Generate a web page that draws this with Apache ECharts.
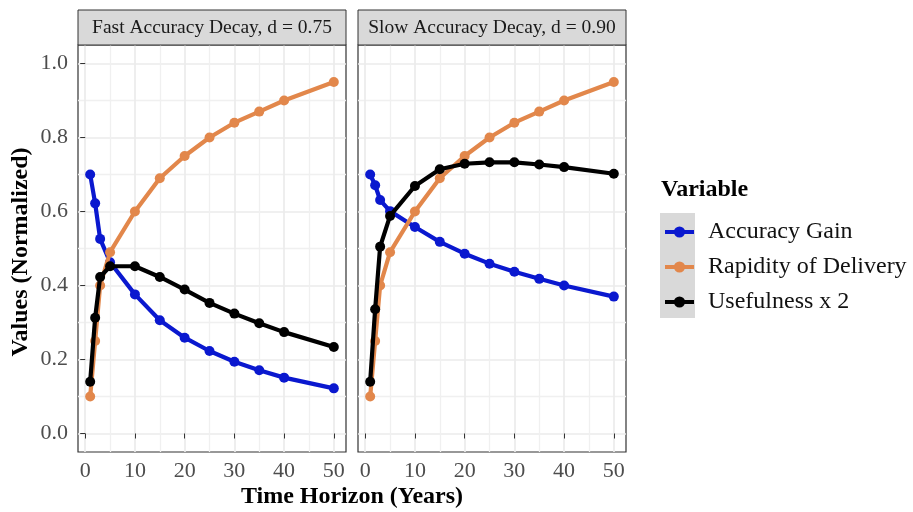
<!DOCTYPE html>
<html><head><meta charset="utf-8">
<script src="https://cdn.jsdelivr.net/npm/echarts@6/dist/echarts.min.js"></script>
<style>html,body{margin:0;padding:0;background:#fff;}#c{width:913px;height:512px;}</style>
</head><body><div id="c"></div>
<script>
const years = [1, 2, 3, 5, 10, 15, 20, 25, 30, 35, 40, 50];
const accuracyFast = [0.70, 0.622, 0.526, 0.463, 0.376, 0.306, 0.259, 0.223, 0.194, 0.171, 0.151, 0.122];
const rapidity = [0.10, 0.25, 0.40, 0.49, 0.60, 0.69, 0.75, 0.80, 0.84, 0.87, 0.90, 0.95];
const usefulnessFast = [0.14, 0.313, 0.423, 0.452, 0.452, 0.423, 0.389, 0.353, 0.324, 0.298, 0.274, 0.234];
const accuracySlow = [0.70, 0.671, 0.631, 0.601, 0.558, 0.518, 0.486, 0.459, 0.437, 0.418, 0.400, 0.370];
const usefulnessSlow = [0.14, 0.336, 0.505, 0.588, 0.669, 0.714, 0.729, 0.733, 0.733, 0.727, 0.720, 0.702];
const panelTitles = ['Fast Accuracy Decay, d = 0.75', 'Slow Accuracy Decay, d = 0.90'];
const seriesNames = ['Accuracy Gain', 'Rapidity of Delivery', 'Usefulness x 2'];
const xTicks = [0, 10, 20, 30, 40, 50];
const xMinorTicks = [5, 15, 25, 35, 45];
const yTicks = [0, 0.2, 0.4, 0.6, 0.8, 1.0];
const yMinorTicks = [0.1, 0.3, 0.5, 0.7, 0.9];
const xRange = [-1.45, 52.45];
const yRange = [-0.05, 1.05];

const FONT = "'Liberation Serif', 'Times New Roman', serif";
const colors = ['#0a18cf', '#e2874b', '#000000'];
const panelData = [
  [accuracyFast, rapidity, usefulnessFast],
  [accuracySlow, rapidity, usefulnessSlow]
];
const grids = [
  { left: 78, top: 45, width: 268, height: 407 },
  { left: 358, top: 45, width: 268, height: 407 }
];

const xAxes = [], yAxes = [], series = [], graphics = [];
grids.forEach((g, gi) => {
  // main axes
  xAxes.push({
    type: 'value', gridIndex: gi, min: xRange[0], max: xRange[1], position: 'bottom',
    axisLine: { show: false },
    axisTick: { show: true, inside: false, length: 5, customValues: xTicks, lineStyle: { color: '#333', width: 1 } },
    axisLabel: { show: true, customValues: xTicks, margin: 8, fontFamily: FONT, fontSize: 22, color: '#4d4d4d' },
    splitLine: { show: true, lineStyle: { color: '#ebebeb', width: 1.7 } }
  });
  // minor axes (grid lines only)
  xAxes.push({
    type: 'value', gridIndex: gi, min: xRange[0], max: xRange[1], position: 'top',
    axisLine: { show: false }, axisLabel: { show: false },
    axisTick: { show: false, customValues: xMinorTicks },
    splitLine: { show: true, lineStyle: { color: '#f0f0f0', width: 1.3 } }
  });
  yAxes.push({
    type: 'value', gridIndex: gi, min: yRange[0], max: yRange[1], position: 'left',
    axisLine: { show: false },
    axisTick: { show: gi === 0, inside: false, length: 5, customValues: yTicks, lineStyle: { color: '#333', width: 1 } },
    axisLabel: { show: gi === 0, customValues: yTicks, margin: 10, fontFamily: FONT, fontSize: 22, color: '#4d4d4d',
      formatter: v => v.toFixed(1) },
    splitLine: { show: true, lineStyle: { color: '#ebebeb', width: 1.7 } }
  });
  yAxes.push({
    type: 'value', gridIndex: gi, min: yRange[0], max: yRange[1], position: 'right',
    axisLine: { show: false }, axisLabel: { show: false },
    axisTick: { show: false, customValues: yMinorTicks },
    splitLine: { show: true, lineStyle: { color: '#f0f0f0', width: 1.3 } }
  });
  panelData[gi].forEach((vals, si) => {
    series.push({
      name: seriesNames[si], type: 'line', xAxisIndex: gi * 2, yAxisIndex: gi * 2,
      data: years.map((x, i) => [x, vals[i]]),
      symbol: 'circle', symbolSize: 10, showSymbol: true,
      lineStyle: { color: colors[si], width: 4.2 },
      itemStyle: { color: colors[si] },
      emphasis: { disabled: true }, animation: false, z: 3 + si
    });
  });
  // strip
  graphics.push({
    type: 'rect', shape: { x: g.left, y: 10, width: g.width, height: 35 },
    style: { fill: '#d9d9d9', stroke: '#333', lineWidth: 1 }, z: 10
  });
  graphics.push({
    type: 'text', x: g.left + g.width / 2, y: 28,
    style: { text: panelTitles[gi], font: '19.5px ' + FONT, fill: '#1a1a1a', align: 'center', verticalAlign: 'middle' }, z: 11
  });
});

// axis titles
graphics.push({
  type: 'text', x: 352, y: 497,
  style: { text: 'Time Horizon (Years)', font: 'bold 24px ' + FONT, fill: '#000', align: 'center', verticalAlign: 'middle' }
});
graphics.push({
  type: 'text', x: 21, y: 252, rotation: Math.PI / 2,
  style: { text: 'Values (Normalized)', font: 'bold 24px ' + FONT, fill: '#000', align: 'center', verticalAlign: 'middle' }
});
// legend title & key background
graphics.push({
  type: 'text', x: 661, y: 190,
  style: { text: 'Variable', font: 'bold 24px ' + FONT, fill: '#000', align: 'left', verticalAlign: 'middle' }
});
graphics.push({
  type: 'rect', shape: { x: 660, y: 213, width: 35, height: 105 },
  style: { fill: '#d9d9d9' }, z: -1
});

const chart = echarts.init(document.getElementById('c'), null, { renderer: 'canvas' });
chart.setOption({
  animation: false,
  backgroundColor: '#ffffff',
  grid: grids.map(g => Object.assign({ show: true, borderColor: '#333', borderWidth: 1.2, backgroundColor: '#fff' }, g)),
  xAxis: xAxes,
  yAxis: yAxes,
  series: series,
  legend: {
    data: seriesNames, orient: 'vertical', left: 663, top: 220, padding: 0,
    itemWidth: 29, itemHeight: 14, itemGap: 11,
    lineStyle: { width: 4 },
    textStyle: { fontFamily: FONT, fontSize: 24, lineHeight: 24, color: '#111', padding: [0, 0, 0, 9] },
    selectedMode: false
  },
  graphic: graphics
});
</script></body></html>
